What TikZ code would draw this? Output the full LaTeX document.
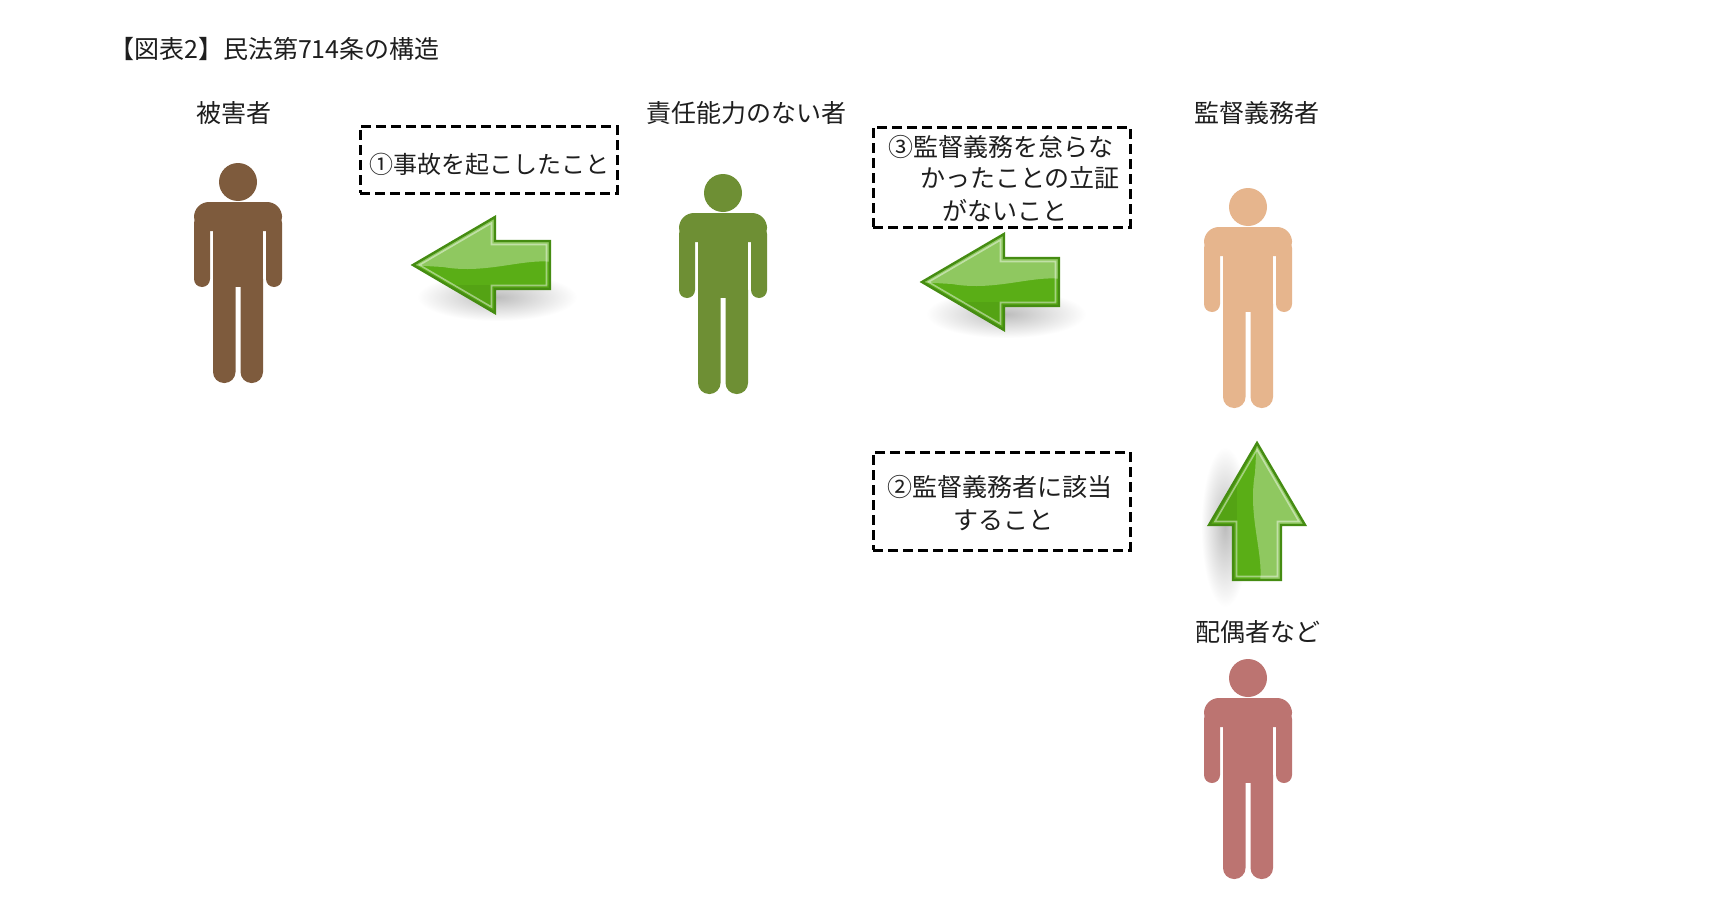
\documentclass[tikz,border=0pt]{standalone}
\usepackage{fontspec}
\newfontfamily\jp{Noto Sans CJK JP}
\definecolor{fbrown}{HTML}{7E5B3D}
\definecolor{fgreen}{HTML}{6E8F34}
\definecolor{fpeach}{HTML}{E6B58D}
\definecolor{fred}{HTML}{BC7471}
\definecolor{aline}{HTML}{458C12}
\definecolor{abase}{HTML}{5AAE16}
\definecolor{txt}{HTML}{1E1E1E}
\tikzset{
  pics/person/.style={code={
    \fill[#1] (0,19) circle[radius=19];
    \fill[#1, rounded corners=15] (-44,39) rectangle (44,68);
    \fill[#1, rounded corners=8] (-44,52) rectangle (-28,124);
    \fill[#1, rounded corners=8] (28,52) rectangle (44,124);
    \fill[#1] (-25,60) rectangle (25,124);
    \fill[#1, rounded corners=11] (-25,105) rectangle (-2.5,220);
    \fill[#1, rounded corners=11] (2.5,105) rectangle (25,220);
  }},
  pics/garrow/.style={code={
    \shade[inner color=black!26, outer color=white] (84,32) ellipse[x radius=80, y radius=24];
    \fill[abase] (0,0) -- (82,-48) -- (82,-24) -- (137,-24) -- (137,24) -- (82,24) -- (82,48) -- cycle;
    \begin{scope}
      \clip (0,0) -- (82,-48) -- (82,-24) -- (137,-24) -- (137,24) -- (82,24) -- (82,48) -- cycle;
      \fill[white, opacity=0.32] (-5,-60) -- (145,-60) -- (145,-2) .. controls (115,-9) and (75,10) .. (30,2) -- (-5,0) -- cycle;
      \fill[black, opacity=0.06] (-5,20) -- (145,20) -- (145,60) -- (-5,60) -- cycle;
    \end{scope}
    \draw[white, opacity=0.45, line width=1.6, line join=miter] (6.5,0) -- (78.5,-42) -- (78.5,-20.5) -- (133.5,-20.5) -- (133.5,20.5) -- (78.5,20.5) -- (78.5,42) -- cycle;
    \draw[aline, line width=2.4, line join=miter] (0,0) -- (82,-48) -- (82,-24) -- (137,-24) -- (137,24) -- (82,24) -- (82,48) -- cycle;
  }},
  lab/.style={font=\jp\fontsize{25}{30}\selectfont, text=txt, inner sep=0pt},
  btxt/.style={font=\jp\fontsize{25}{30}\selectfont, text=txt, inner sep=0pt},
  dbox/.style={draw=black, line width=3pt, dash pattern=on 10pt off 5pt, inner sep=0pt, minimum width=257pt},
}
\begin{document}
\begin{tikzpicture}[x=1pt, y=-1pt]
  \fill[white] (0,0) rectangle (1711,907);
  \useasboundingbox (0,0) rectangle (1711,907);

  % title
  \node[lab, anchor=west] (title) at (109,49) {【図表2】民法第714条の構造};

  % labels
  \node[lab] (l1) at (234,113) {被害者};
  \node[lab] (l2) at (746,113) {責任能力のない者};
  \node[lab] (l3) at (1257,113) {監督義務者};
  \node[lab] (l4) at (1258,632) {配偶者など};

  % people
  \pic at (238,163) {person=fbrown};
  \pic at (723,174) {person=fgreen};
  \pic at (1248,188) {person=fpeach};
  \pic at (1248,659) {person=fred};

  % arrows
  \pic at (413,265) {garrow};
  \pic at (922,282) {garrow};
  \pic[rotate=-90] at (1257,443) {garrow};

  % dashed boxes
  \node[dbox, minimum height=67pt] (b1) at (488.5,159.5) {};
  \node[btxt, font=\jp\fontsize{24}{30}\selectfont] (t1) at (489,164) {①事故を起こしたこと};

  \node[dbox, minimum height=100pt] (b3) at (1001.5,177) {};
  \node[btxt] (t3a) at (1001,147) {③監督義務を怠らな};
  \node[btxt] (t3b) at (1020,178) {かったことの立証};
  \node[btxt] (t3c) at (1005,211) {がないこと};

  \node[dbox, minimum height=98pt] (b2) at (1001.5,501) {};
  \node[btxt] (t2a) at (1000,487) {②監督義務者に該当};
  \node[btxt] (t2b) at (1003,520) {すること};
\end{tikzpicture}
\end{document}
